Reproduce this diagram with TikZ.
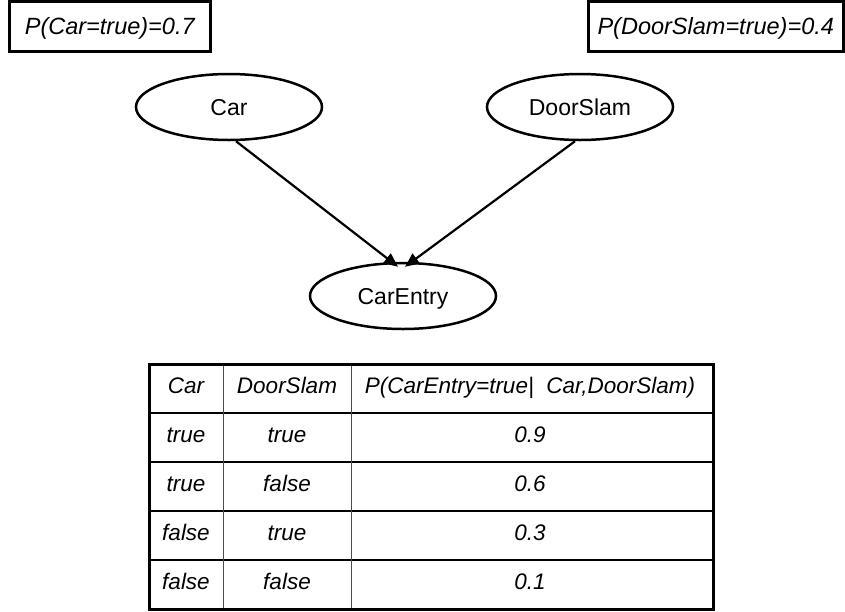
\documentclass[tikz,border=0pt]{standalone}
\usepackage{fontspec}
\setmainfont{Liberation Sans}
\usetikzlibrary{arrows.meta,shapes.geometric}
\begin{document}
\begin{tikzpicture}[x=1pt,y=-1pt,
  probbox/.style={draw, line width=3pt, inner sep=0pt, minimum height=49.5pt,
    text height=17pt, text depth=0pt,
    font=\fontsize{23.5}{28}\selectfont\itshape},
  var/.style={draw, ellipse, line width=2.5pt, inner sep=0pt,
    text height=17pt, text depth=0pt,
    minimum width=186pt, minimum height=66pt, font=\fontsize{23}{27}\selectfont},
  edge/.style={line width=2.2pt, -{Triangle[length=14pt,width=12pt]}},
  cell/.style={inner sep=0pt, text height=17pt, text depth=7pt,
    font=\fontsize{22.5}{26}\selectfont\itshape},
  outer/.style={line width=3pt},
  rowline/.style={line width=1.5pt},
  colline/.style={line width=1pt, draw=black!70}]
\useasboundingbox (0,0) rectangle (845,611);

% prior probabilities
\node[probbox, minimum width=200.5pt] (pcar) at (109.75,26.25) {P(Car=true)=0.7};
\node[probbox, minimum width=254.5pt] (pdoor) at (715.75,26.25) {P(DoorSlam=true)=0.4};

% network
\node[var] (car) at (229,107) {Car};
\node[var] (door) at (580,107) {DoorSlam};
\node[var] (entry) at (403,296) {CarEntry};

\draw[edge] ([xshift=7pt]car.south) -- ([xshift=-5pt,yshift=-5pt]entry.north);
\draw[edge] ([xshift=-5pt]door.south) -- ([xshift=2pt,yshift=-5pt]entry.north);

% conditional probability table
\foreach \y in {413,462,511,560} \draw[rowline] (149,\y) -- (713,\y);
\foreach \x in {223,351} \draw[colline] (\x,364) -- (\x,609);
\draw[outer] (149,364) rectangle (713,609);

\node[cell] (h1) at (186,388.5) {Car};
\node[cell] (h2) at (287,388.5) {DoorSlam};
\node[cell] (h3) at (530,388.5) {P(CarEntry=true|\ \ Car,DoorSlam)};

\node[cell] (a1) at (186,437.5) {true};
\node[cell] (a2) at (287,437.5) {true};
\node[cell] (a3) at (530,437.5) {0.9};

\node[cell] (b1) at (186,486.5) {true};
\node[cell] (b2) at (287,486.5) {false};
\node[cell] (b3) at (530,486.5) {0.6};

\node[cell] (c1) at (186,535.5) {false};
\node[cell] (c2) at (287,535.5) {true};
\node[cell] (c3) at (530,535.5) {0.3};

\node[cell] (d1) at (186,584.5) {false};
\node[cell] (d2) at (287,584.5) {false};
\node[cell] (d3) at (530,584.5) {0.1};
\end{tikzpicture}
\end{document}
